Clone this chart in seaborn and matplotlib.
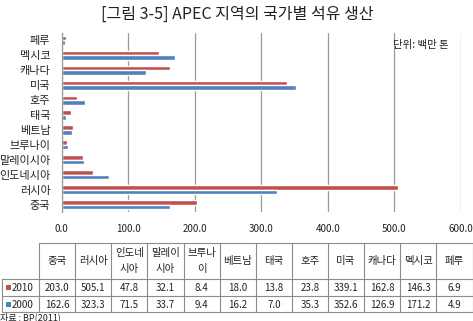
import matplotlib
matplotlib.use('Agg')
import matplotlib.pyplot as plt
import seaborn as sns
import pandas as pd
from matplotlib.patches import Rectangle

# ---------------- data ----------------
countries = ['페루', '멕시코', '캐나다', '미국', '호주', '태국', '베트남',
             '브루나이', '말레이시아', '인도네시아', '러시아', '중국']
v2010 = [6.9, 146.3, 162.8, 339.1, 23.8, 13.8, 18.0, 8.4, 32.1, 47.8, 505.1, 203.0]
v2000 = [4.9, 171.2, 126.9, 352.6, 35.3, 7.0, 16.2, 9.4, 33.7, 71.5, 323.3, 162.6]
years = ['2010', '2000']
table_order = ['중국', '러시아', '인도네시아', '말레이시아', '브루나이', '베트남',
               '태국', '호주', '미국', '캐나다', '멕시코', '페루']
table_headers = ['중국', '러시아', '인도네\n시아', '말레이\n시아', '브루나\n이', '베트남',
                 '태국', '호주', '미국', '캐나다', '멕시코', '페루']
xticks = [0, 100, 200, 300, 400, 500, 600]
xtick_labels = ['0.0', '100.0', '200.0', '300.0', '400.0', '500.0', '600.0']
title = '[그림 3-5] APEC 지역의 국가별 석유 생산'
unit_text = '단위: 백만 톤'
source_text = '자료 : BP(2011)'

# ---------------- style ----------------
sns.set_style('white')
plt.rcParams['font.family'] = ['Noto Sans CJK KR', 'DejaVu Sans']
RED = '#C0504D'
BLUE = '#4F81BD'
GRID = '#9a9a9a'
TXT = '#222222'

W, H = 473, 321
fig = plt.figure(figsize=(W / 100, H / 100), dpi=100)

# main bar axes (pixel placement)
x0, x1, y0, y1 = 61.5, 461.0, 33.0, 212.0
ax = fig.add_axes([x0 / W, 1 - y1 / H, (x1 - x0) / W, (y1 - y0) / H])

df = pd.DataFrame({
    'country': countries * 2,
    'value': v2010 + v2000,
    'year': [years[0]] * len(countries) + [years[1]] * len(countries),
})
sns.barplot(data=df, y='country', x='value', hue='year', order=countries,
            hue_order=years, palette=[RED, BLUE], orient='h', width=0.62,
            saturation=1, legend=False, ax=ax, errorbar=None)

ax.set_xlim(0, 600)
ax.set_xticks(xticks)
ax.set_xticklabels(xtick_labels, fontsize=7, color=TXT)
ax.tick_params(axis='x', length=0, pad=9)
ax.tick_params(axis='y', length=0, pad=8, labelsize=8, labelcolor=TXT)
ax.set_xlabel('')
ax.set_ylabel('')
ax.grid(axis='x', color=GRID, linewidth=0.9)
ax.set_axisbelow(True)
for s in ['top', 'right', 'bottom']:
    ax.spines[s].set_visible(False)
ax.spines['left'].set_color(GRID)
ax.spines['left'].set_linewidth(0.9)

# overlay axes in pixel coords for title, table and notes
ov = fig.add_axes([0, 0, 1, 1], facecolor='none')
ov.set_xlim(0, W)
ov.set_ylim(H, 0)
ov.axis('off')

ov.text(237, 14, title, ha='center', va='center', fontsize=11.5, color=TXT)
ov.text(393, 45, unit_text, ha='left', va='center', fontsize=7.5, color=TXT)

# data table
tx0, tx1 = 39.0, 472.5
lx = 2.0
ty_head, ty_r1, ty_r2, ty_end = 242.7, 279.0, 296.0, 312.0
ncol = len(table_order)
cw = (tx1 - tx0) / ncol
LC = '#8c8c8c'
lw = 0.8
ov.plot([tx0, tx1], [ty_head, ty_head], color=LC, lw=lw)
for yy in [ty_r1, ty_r2, ty_end]:
    ov.plot([lx, tx1], [yy, yy], color=LC, lw=lw)
ov.plot([lx, lx], [ty_r1, ty_end], color=LC, lw=lw)
for i in range(ncol + 1):
    xx = tx0 + i * cw
    ov.plot([xx, xx], [ty_head, ty_end], color=LC, lw=lw)

d2010 = dict(zip(countries, v2010))
d2000 = dict(zip(countries, v2000))
for i, (c, hdr) in enumerate(zip(table_order, table_headers)):
    cx = tx0 + (i + 0.5) * cw
    ov.text(cx, (ty_head + ty_r1) / 2 + 0.5, hdr, ha='center', va='center',
            fontsize=7.5, color=TXT, linespacing=1.75)
    ov.text(cx, (ty_r1 + ty_r2) / 2 + 0.5, f'{d2010[c]:.1f}', ha='center',
            va='center', fontsize=7, color=TXT)
    ov.text(cx, (ty_r2 + ty_end) / 2 + 0.5, f'{d2000[c]:.1f}', ha='center',
            va='center', fontsize=7, color=TXT)

for (ya, yb), col, yr in [((ty_r1, ty_r2), RED, years[0]),
                          ((ty_r2, ty_end), BLUE, years[1])]:
    cy = (ya + yb) / 2
    ov.add_patch(Rectangle((5.5, cy - 2.5), 5, 5, color=col, lw=0))
    ov.text(12, cy + 0.5, yr, ha='left', va='center', fontsize=7, color=TXT)

ov.text(0, 317, source_text, ha='left', va='center', fontsize=6.5, color=TXT)

fig.savefig('out.png', dpi=100)
